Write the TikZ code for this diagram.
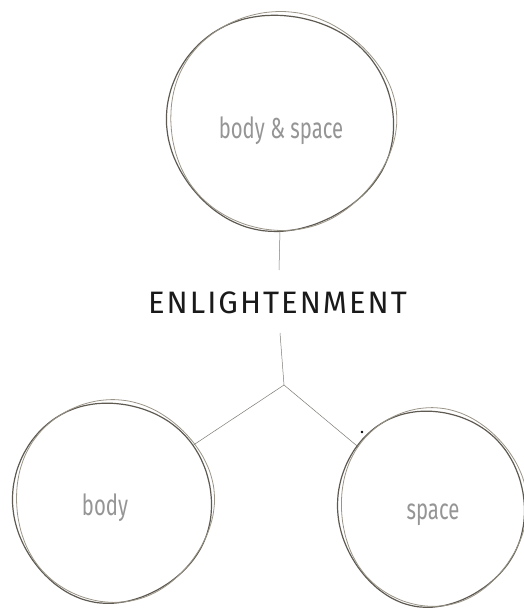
\documentclass[tikz,border=0pt]{standalone}
\usepackage{fontspec}
\usetikzlibrary{shapes.geometric}
\newfontfamily\titlefont[LetterSpace=6.5]{Fira Sans}
\newfontfamily\labelfont[FakeStretch=0.7]{Fira Sans}
\definecolor{pencil}{HTML}{5E5A52}
\definecolor{pencillight}{HTML}{9A9588}
\definecolor{labelgray}{HTML}{959595}
\definecolor{titleblack}{HTML}{1A1A1A}
\newcommand\sketchring[4]{%
  \draw[sketch] plot[smooth cycle, samples=40, domain=0:351]
    ({#1+#3*cos(\x)*(1+0.015*sin(2*\x+20))}, {#2+#4*sin(\x)*(1+0.02*cos(3*\x+40))});
  \draw[sketchb] plot[smooth cycle, samples=40, domain=0:351]
    ({#1+1.5+#3*cos(\x)*(1+0.022*sin(3*\x+110))}, {#2-1+#4*sin(\x)*(1+0.015*cos(2*\x+200))});
}
\tikzset{
  sketch/.style={draw=pencil, line width=1.2pt},
  sketchb/.style={draw=pencillight, line width=0.8pt},
  ring/.style={ellipse, draw=none, inner sep=0pt},
  lbl/.style={font=\labelfont\fontsize{29}{32}\selectfont, text=labelgray, anchor=base},
  link/.style={draw=pencil!80, line width=0.5pt},
}
\begin{document}
\begin{tikzpicture}[x=1pt, y=-1pt]
\fill[white] (0,0) rectangle (523,613);
\useasboundingbox (0,0) rectangle (523,613);
% ring nodes
\node[ring, minimum width=226pt, minimum height=216pt] (bs) at (280,122) {};
\node[ring, minimum width=198pt, minimum height=200pt] (body) at (112,502) {};
\node[ring, minimum width=186pt, minimum height=196pt] (space) at (431,508) {};
\sketchring{280}{122}{113}{108}
\sketchring{112}{502}{99}{100}
\sketchring{431}{508}{93}{98}
% labels
\node[lbl] (bsl) at (281,138) {body \& space};
\node[lbl] (bl) at (105,515) {body};
\node[lbl] (sl) at (433,519) {space};
% title
\node[font=\titlefont\fontsize{31}{34}\selectfont, text=titleblack, inner xsep=0pt, inner ysep=0pt, minimum height=60pt] (en) at (277.5,303) {ENLIGHTENMENT};
\coordinate (j) at (284,385);
\draw[link] (bs.south) -- (279,270);
\draw[link] (280,333) -- (j);
\draw[link] (j) -- (body.35);
\draw[link] (j) -- (space.140);
\fill[black] (362,432) circle (1.3pt);
\end{tikzpicture}
\end{document}
